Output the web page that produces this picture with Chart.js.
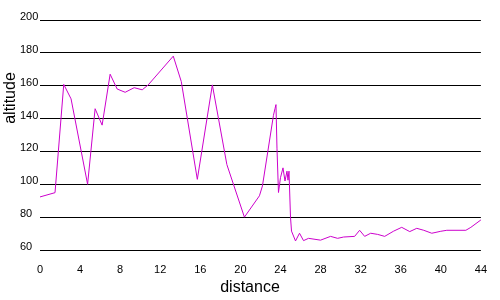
<!DOCTYPE html>
<html>
<head>
<meta charset="utf-8">
<script src="https://cdn.jsdelivr.net/npm/chart.js@4/dist/chart.umd.min.js"></script>
<style>
  html, body { margin: 0; padding: 0; background: #fff; }
  #wrap { width: 500px; height: 300px; }
</style>
</head>
<body>
<div id="wrap"><canvas id="c" width="500" height="300"></canvas></div>
<script>
const distances = [0, 1.5, 2.37, 3.1, 4.75, 5.5, 6.2, 7.0, 7.7, 8.5, 9.4, 10.2, 10.8, 13.3, 14.1, 15.7, 17.2, 18.65, 20.4,
  21.9, 22.2, 23.3, 23.45, 23.55, 23.65, 23.8, 24.0, 24.25, 24.45, 24.65, 24.75, 24.85, 25.0, 25.1, 25.5, 25.9, 26.3, 26.8,
  28.0, 29.0, 29.7, 30.3, 31.4, 31.9, 32.4, 33.0, 33.7, 34.4, 35.3, 36.1, 36.9, 37.6, 38.3, 39.1, 40.0, 40.6, 42.5, 43.0, 44.0];
const altitudes = [92.3, 94.9, 160.8, 152, 100, 146, 136, 167, 158, 156, 158.8, 157.5, 160.5, 178, 162.5, 103, 160.5, 112, 80,
  93, 99, 142, 146, 148.5, 122, 95, 104, 110, 102, 108, 102.5, 108, 80, 71.5, 65.5, 70.2, 65.7, 67.1,
  66.0, 68.3, 67.1, 67.9, 68.3, 72.0, 68.3, 70.2, 69.5, 68.3, 71.5, 73.8, 71.2, 73.2, 72.0, 70.2, 71.4, 72.0, 72.0, 73.8, 78.3];
const xTitle = 'distance';
const yTitle = 'altitude';
const xMin = 0, xMax = 44, xStep = 4;
const yMin = 60, yMax = 200, yStep = 20;

const FONT = 'Liberation Sans, Arial, sans-serif';

const titlesPlugin = {
  id: 'axisTitles',
  afterDraw(chart) {
    const ctx = chart.ctx;
    ctx.save();
    ctx.fillStyle = '#000';
    ctx.font = '16px ' + FONT;
    ctx.textAlign = 'center';
    ctx.textBaseline = 'alphabetic';
    ctx.fillText(xTitle, 250, 291.5);
    ctx.translate(15, 98);
    ctx.rotate(-Math.PI / 2);
    ctx.fillText(yTitle, 0, 0);
    ctx.restore();
  }
};

new Chart(document.getElementById('c'), {
  type: 'scatter',
  data: {
    datasets: [{
      data: distances.map((d, i) => ({ x: d, y: altitudes[i] })),
      showLine: true,
      borderColor: '#cc00cc',
      borderWidth: 1,
      pointRadius: 0,
      tension: 0,
      fill: false
    }]
  },
  options: {
    responsive: false,
    animation: false,
    events: [],
    layout: { padding: { top: 20, right: 19, left: 20, bottom: 0 } },
    plugins: { legend: { display: false }, tooltip: { enabled: false } },
    scales: {
      x: {
        type: 'linear',
        min: xMin, max: xMax,
        grid: { display: false, drawTicks: false },
        border: { display: false },
        ticks: { stepSize: xStep, color: '#000', font: { family: FONT, size: 11 }, padding: 13, maxRotation: 0 },
        afterFit(scale) { scale.height = 50; }
      },
      y: {
        type: 'linear',
        min: yMin, max: yMax,
        grid: { color: '#000', lineWidth: 1, drawTicks: false },
        border: { display: false },
        ticks: { stepSize: yStep, color: '#000', font: { family: FONT, size: 11 }, crossAlign: 'far', labelOffset: -3, padding: 0 },
        afterFit(scale) { scale.width = 20; }
      }
    }
  },
  plugins: [titlesPlugin]
});
</script>
</body>
</html>
